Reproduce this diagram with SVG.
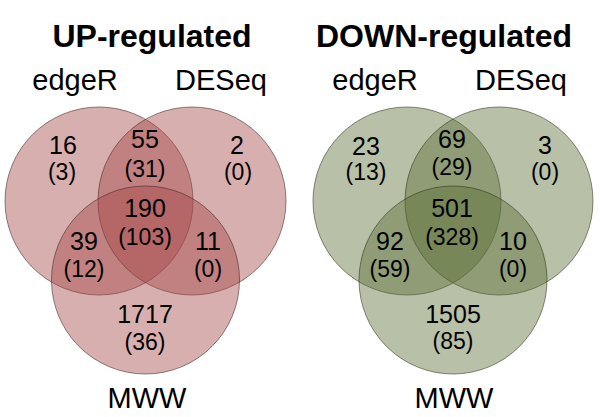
<svg xmlns="http://www.w3.org/2000/svg" width="600" height="417" viewBox="0 0 600 417">
<style>
text{font-family:"Liberation Sans",Arial,sans-serif;fill:#000;text-anchor:middle}
.t{font-size:32px;font-weight:bold}
.l{font-size:29px}
.n{font-size:25px}
.p{font-size:23px}
.up{fill:#a54646;fill-opacity:0.43;stroke:#3a2020;stroke-opacity:0.55;stroke-width:1}
.dn{fill:#5a6e32;fill-opacity:0.43;stroke:#2a3018;stroke-opacity:0.55;stroke-width:1}
</style>
<rect width="600" height="417" fill="#fff"/>
<g id="up">
<text class="t" x="152" y="47">UP-regulated</text>
<g id="up-edgeR"><circle class="up" cx="99" cy="201" r="94"/><text class="l" x="75" y="90">edgeR</text></g>
<g id="up-DESeq"><circle class="up" cx="192" cy="201" r="94"/><text class="l" x="221" y="90">DESeq</text></g>
<g id="up-MWW"><circle class="up" cx="145.5" cy="280" r="94"/><text class="l" x="147" y="408">MWW</text></g>
<g id="up-counts">
<text class="n" x="63" y="154">16</text><text class="p" x="62" y="180">(3)</text>
<text class="n" x="145" y="148">55</text><text class="p" x="145" y="177">(31)</text>
<text class="n" x="237" y="154">2</text><text class="p" x="238" y="180">(0)</text>
<text class="n" x="145" y="217">190</text><text class="p" x="145" y="245">(103)</text>
<text class="n" x="84" y="250">39</text><text class="p" x="84" y="277">(12)</text>
<text class="n" x="208" y="250">11</text><text class="p" x="208" y="277">(0)</text>
<text class="n" x="145" y="323">1717</text><text class="p" x="145" y="350">(36)</text>
</g>
</g>
<g id="down">
<text class="t" x="444" y="47">DOWN-regulated</text>
<g id="down-edgeR"><circle class="dn" cx="407" cy="201" r="94"/><text class="l" x="375" y="90">edgeR</text></g>
<g id="down-DESeq"><circle class="dn" cx="499" cy="201" r="94"/><text class="l" x="521" y="90">DESeq</text></g>
<g id="down-MWW"><circle class="dn" cx="453" cy="280" r="94"/><text class="l" x="454" y="408">MWW</text></g>
<g id="down-counts">
<text class="n" x="366" y="155">23</text><text class="p" x="366" y="180">(13)</text>
<text class="n" x="452" y="148">69</text><text class="p" x="452" y="175">(29)</text>
<text class="n" x="545" y="154">3</text><text class="p" x="545" y="180">(0)</text>
<text class="n" x="452" y="217">501</text><text class="p" x="452" y="245">(328)</text>
<text class="n" x="390" y="250">92</text><text class="p" x="390" y="277">(59)</text>
<text class="n" x="513" y="250">10</text><text class="p" x="513" y="277">(0)</text>
<text class="n" x="453" y="323">1505</text><text class="p" x="453" y="349">(85)</text>
</g>
</g>
<g id="connectors"/>
</svg>
